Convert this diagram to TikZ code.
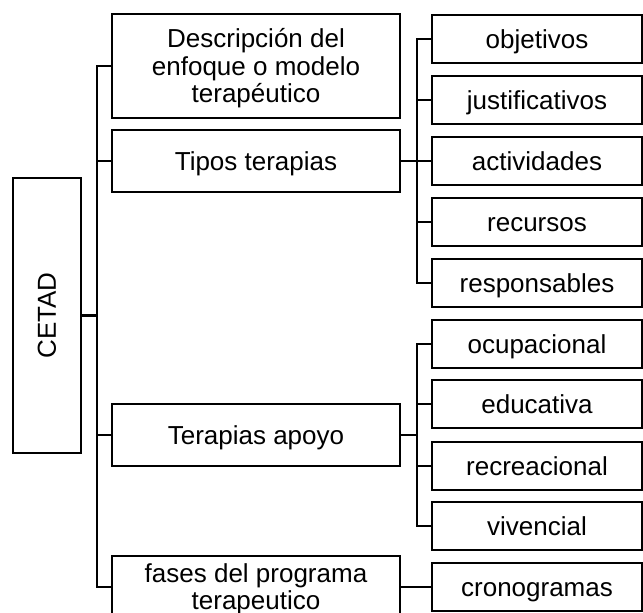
\documentclass[tikz,border=0pt]{standalone}
\usepackage{fontspec}
\setmainfont{Liberation Sans}
\usepackage{graphicx}
\begin{document}
\begin{tikzpicture}[x=1pt,y=-1pt,
  every node/.style={inner sep=0pt, outer sep=0pt},
  box/.style={draw, line width=2.2pt, rectangle, align=center,
    font=\fontsize{26}{27.5}\selectfont},
  single/.style={text height=18pt, text depth=0pt},
  multi/.style={text depth=1pt},
  lone/.style={box, minimum width=288pt, minimum height=62pt},
  ltwo/.style={box, single, minimum width=210pt, minimum height=48pt},
  conn/.style={line width=2.2pt}]
\useasboundingbox (0,0) rectangle (643,613);
\clip (0,0) rectangle (643,613);
\node[box, minimum width=68pt, minimum height=275pt] (cetad) at (47,315.5) {\rotatebox{90}{CETAD}};
\node[lone, multi, minimum height=104pt] (desc) at (256,66) {Descripción del\\enfoque o modelo\\terapéutico};
\node[lone, single] (tipos) at (256,161) {Tipos terapias};
\node[lone, single] (apoyo) at (256,435) {Terapias apoyo};
\node[lone, multi] (fases) at (256,587) {fases del programa\\terapeutico};
\node[ltwo] (obj) at (537,39) {objetivos};
\node[ltwo] (jus) at (537,100) {justificativos};
\node[ltwo] (act) at (537,161) {actividades};
\node[ltwo] (rec) at (537,222) {recursos};
\node[ltwo] (res) at (537,283) {responsables};
\node[ltwo] (ocu) at (537,344) {ocupacional};
\node[ltwo] (edu) at (537,404) {educativa};
\node[ltwo] (recr) at (537,466) {recreacional};
\node[ltwo] (viv) at (537,526) {vivencial};
\node[ltwo] (cro) at (537,587) {cronogramas};
\coordinate (trunk) at (97,0);
\coordinate (subtrunk) at (417,0);
\draw[conn] (desc.west) -- (desc.west -| trunk) |- (fases.west);
\draw[conn] (cetad.east) -- (cetad.east -| trunk);
\draw[conn] (tipos.west) -- (tipos.west -| trunk);
\draw[conn] (apoyo.west) -- (apoyo.west -| trunk);
\draw[conn] (obj.west) -- (obj.west -| subtrunk) |- (res.west);
\draw[conn] (tipos.east) -- (act.west);
\draw[conn] (jus.west) -- (jus.west -| subtrunk);
\draw[conn] (rec.west) -- (rec.west -| subtrunk);
\draw[conn] (ocu.west) -- (ocu.west -| subtrunk) |- (viv.west);
\draw[conn] (apoyo.east) -- (apoyo.east -| subtrunk);
\draw[conn] (edu.west) -- (edu.west -| subtrunk);
\draw[conn] (recr.west) -- (recr.west -| subtrunk);
\draw[conn] (fases.east) -- (cro.west);
\end{tikzpicture}
\end{document}
